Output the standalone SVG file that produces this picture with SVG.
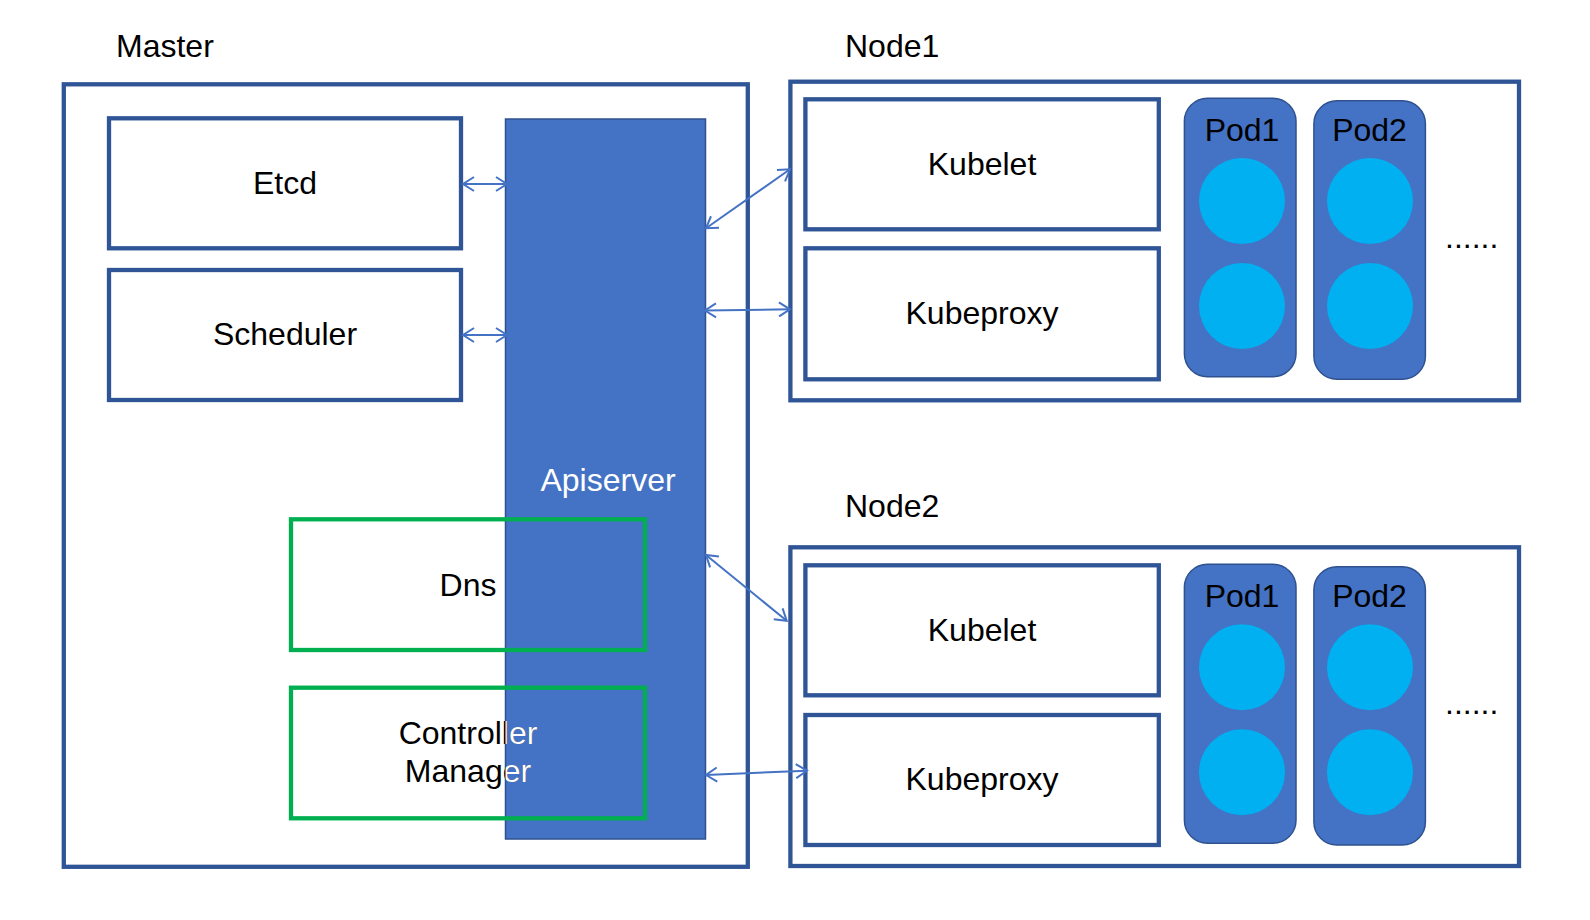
<svg xmlns="http://www.w3.org/2000/svg" width="1590" height="920" viewBox="0 0 1590 920">
<style>
text{font-family:"Liberation Sans",Arial,sans-serif;fill:#000}
.title{font-size:32px}
.lbl{font-size:32px;text-anchor:middle}
.box{fill:#fff;stroke:#2F5597;stroke-width:4.3}
.frame{fill:none;stroke:#2F5597;stroke-width:4.3}
.green{fill:none;stroke:#00B050;stroke-width:4.3}
.api{fill:#4472C4;stroke:#2F528F;stroke-width:1.5}
.pod{fill:#4472C4;stroke:#2F528F;stroke-width:1.5}
.ct{fill:#00B0F0}
.conn{stroke:#4472C4;stroke-width:2;fill:none;marker-start:url(#ah);marker-end:url(#ah)}
.wt{fill:#fff}
</style>
<defs>
<marker id="ah" markerUnits="userSpaceOnUse" markerWidth="30" markerHeight="30" viewBox="-15 -15 30 30" refX="0" refY="0" orient="auto-start-reverse">
<path d="M-11,-7 L0,0 L-11,7" fill="none" stroke="#4472C4" stroke-width="2"/>
</marker>
<clipPath id="apiclip"><rect x="505.5" y="119" width="200" height="720"/></clipPath>
</defs>
<rect width="1590" height="920" fill="#fff"/>

<g id="master">
<text class="title" x="116" y="57">Master</text>
<rect class="frame" x="63.8" y="84.3" width="684" height="782.5"/>
</g>

<g id="apiserver">
<rect class="api" x="505.5" y="119" width="200" height="720"/>
<text class="lbl wt" x="608" y="491">Apiserver</text>
</g>

<g id="etcd">
<rect class="box" x="109" y="118.3" width="352" height="130"/>
<text class="lbl" x="285" y="194">Etcd</text>
</g>

<g id="scheduler">
<rect class="box" x="109" y="270" width="352" height="130"/>
<text class="lbl" x="285" y="345">Scheduler</text>
</g>

<g id="dns">
<rect class="green" x="291" y="519.3" width="354" height="130.7"/>
<text class="lbl" x="468" y="596">Dns</text>
</g>

<g id="controller-manager">
<rect class="green" x="291" y="687.7" width="354" height="130.6"/>
<text class="lbl" x="468" y="744">Controller</text>
<text class="lbl" x="468" y="782">Manager</text>
<g clip-path="url(#apiclip)">
<text class="lbl wt" x="468" y="744">Controller</text>
<text class="lbl wt" x="468" y="782">Manager</text>
</g>
</g>

<g id="node1">
<text class="title" x="845" y="57">Node1</text>
<rect class="frame" x="790.4" y="81.7" width="728.6" height="318.6"/>
</g>
<g id="node1-kubelet">
<rect class="box" x="805.4" y="99.3" width="353.4" height="130"/>
<text class="lbl" x="982" y="174.5">Kubelet</text>
</g>
<g id="node1-kubeproxy">
<rect class="box" x="805.4" y="248.3" width="353.4" height="131"/>
<text class="lbl" x="982" y="324">Kubeproxy</text>
</g>
<g id="node1-pod1">
<rect class="pod" x="1184.4" y="98.3" width="111.6" height="278.4" rx="23" ry="23"/>
<text class="lbl" x="1242" y="141">Pod1</text>
<circle class="ct" cx="1242" cy="201" r="43"/>
<circle class="ct" cx="1242" cy="306" r="43"/>
</g>
<g id="node1-pod2">
<rect class="pod" x="1313.9" y="100.7" width="111.5" height="278.6" rx="23" ry="23"/>
<text class="lbl" x="1369.5" y="141">Pod2</text>
<circle class="ct" cx="1370" cy="201" r="43"/>
<circle class="ct" cx="1370" cy="306" r="43"/>
</g>
<g id="node1-more">
<text class="title" x="1445" y="248">......</text>
</g>

<g id="node2">
<text class="title" x="845" y="517">Node2</text>
<rect class="frame" x="790.4" y="547.3" width="728.6" height="318.7"/>
</g>
<g id="node2-kubelet">
<rect class="box" x="805.4" y="565.3" width="353.4" height="130"/>
<text class="lbl" x="982" y="640.5">Kubelet</text>
</g>
<g id="node2-kubeproxy">
<rect class="box" x="805.4" y="715" width="353.4" height="130"/>
<text class="lbl" x="982" y="790">Kubeproxy</text>
</g>
<g id="node2-pod1">
<rect class="pod" x="1184.4" y="564.3" width="111.6" height="279" rx="23" ry="23"/>
<text class="lbl" x="1242" y="607">Pod1</text>
<circle class="ct" cx="1242" cy="667.3" r="43"/>
<circle class="ct" cx="1242" cy="772.3" r="43"/>
</g>
<g id="node2-pod2">
<rect class="pod" x="1313.9" y="566.7" width="111.5" height="278.3" rx="23" ry="23"/>
<text class="lbl" x="1369.5" y="607">Pod2</text>
<circle class="ct" cx="1370" cy="667.3" r="43"/>
<circle class="ct" cx="1370" cy="772.3" r="43"/>
</g>
<g id="node2-more">
<text class="title" x="1445" y="714">......</text>
</g>

<g id="connectors">
<line class="conn" x1="463" y1="184" x2="507" y2="184"/>
<line class="conn" x1="463" y1="335" x2="507" y2="335"/>
<line class="conn" x1="706" y1="228.3" x2="790" y2="169.3"/>
<line class="conn" x1="705" y1="310.5" x2="790" y2="309.3"/>
<line class="conn" x1="706" y1="555" x2="786.7" y2="620.7"/>
<line class="conn" x1="706" y1="775" x2="807" y2="770.7"/>
</g>
</svg>
